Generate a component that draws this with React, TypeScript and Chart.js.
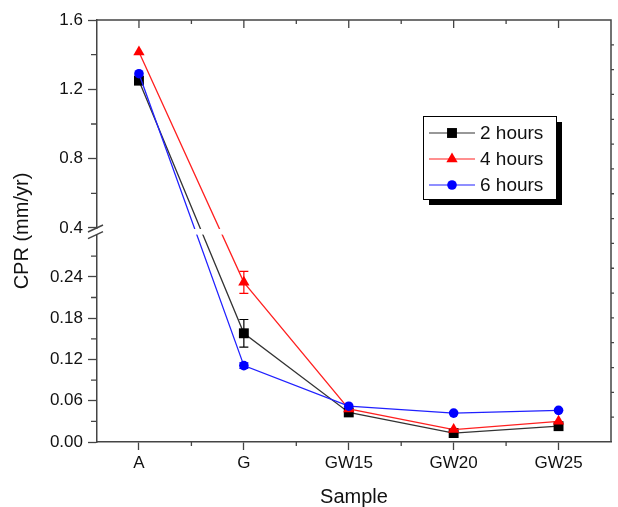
import React, { useEffect, useRef } from 'react';
import { Chart, registerables } from 'chart.js';

Chart.register(...registerables);

// ---- data ----
const categories = ['A', 'G', 'GW15', 'GW20', 'GW25'];
const seriesNames = ['2 hours', '4 hours', '6 hours'];
const hours2 = [1.25, 0.158, 0.043, 0.013, 0.023];
const hours4 = [1.415, 0.232, 0.048, 0.018, 0.030];
const hours6 = [1.29, 0.111, 0.052, 0.042, 0.046];
const err2 = [0, 0.02, 0, 0, 0];
const err4 = [0, 0.016, 0, 0, 0];
const err6 = [0, 0.004, 0, 0, 0];
const yTicksLower = [0, 0.06, 0.12, 0.18, 0.24];
const yTicksUpper = [0.4, 0.8, 1.2, 1.6];
const yMinorLower = [0.03, 0.09, 0.15, 0.21, 0.27];
const yMinorUpper = [0.6, 1.0, 1.4];

// ---- broken axis transform ----
const BREAK_LOW = 0.3;
const BREAK_HIGH = 0.4;
const LOW_K = 688;
const HIGH_K = 173.3;
const GAP = 7.6;
function T(v: number): number {
  return v <= BREAK_LOW ? v * LOW_K : BREAK_LOW * LOW_K + GAP + (v - BREAK_HIGH) * HIGH_K;
}

const FONT = "'Liberation Sans', Arial, Helvetica, sans-serif";
const AXIS_COLOR = '#444';
const colors = ['#000000', '#ff0000', '#0000ff'];
const lineColors = ['#333333', '#ff2020', '#2020ff'];
const styles = ['rect', 'triangle', 'circle'];
const radii = [7, 6.5, 4.8];

const seriesValues = [hours2, hours4, hours6];
const seriesErrors = [err2, err4, err6];

const yTickAll = [...yTicksLower, ...yTicksUpper];
const yTickLabels = [...yTicksLower.map((v) => v.toFixed(2)), ...yTicksUpper.map((v) => v.toFixed(1))];

function drawMarker(ctx: CanvasRenderingContext2D, style: string, x: number, y: number, r: number, color: string) {
  ctx.save();
  ctx.fillStyle = color;
  ctx.beginPath();
  if (style === 'rect') {
    const s = Math.SQRT1_2 * r;
    ctx.rect(x - s, y - s, 2 * s, 2 * s);
  } else if (style === 'triangle') {
    ctx.moveTo(x, y - r);
    ctx.lineTo(x + r * 0.866, y + r / 2);
    ctx.lineTo(x - r * 0.866, y + r / 2);
    ctx.closePath();
  } else {
    ctx.arc(x, y, r, 0, Math.PI * 2);
  }
  ctx.fill();
  ctx.restore();
}

const decorPlugin = {
  id: 'decor',
  beforeDatasetsDraw(chart: any) {
    const ctx = chart.ctx;
    const xs = chart.scales.x;
    const ys = chart.scales.y;
    ctx.save();
    ctx.lineWidth = 1.2;
    seriesValues.forEach((vals, si) => {
      ctx.strokeStyle = colors[si];
      vals.forEach((v, i) => {
        const e = seriesErrors[si][i];
        if (!e) return;
        const x = xs.getPixelForValue(i + 1);
        const y1 = ys.getPixelForValue(T(v + e));
        const y2 = ys.getPixelForValue(T(v - e));
        ctx.beginPath();
        ctx.moveTo(x, y1);
        ctx.lineTo(x, y2);
        ctx.moveTo(x - 4.5, y1);
        ctx.lineTo(x + 4.5, y1);
        ctx.moveTo(x - 4.5, y2);
        ctx.lineTo(x + 4.5, y2);
        ctx.stroke();
      });
    });
    ctx.restore();
  },
  afterDatasetsDraw(chart: any) {
    const ctx = chart.ctx;
    const xs = chart.scales.x;
    const ys = chart.scales.y;
    const { left, right, top, bottom } = chart.chartArea;
    ctx.save();
    // break band
    const yHi = ys.getPixelForValue(T(BREAK_HIGH));
    const yLo = ys.getPixelForValue(T(BREAK_LOW));
    ctx.fillStyle = '#ffffff';
    ctx.fillRect(left - 3, yHi + 1, right - left + 1, yLo - yHi - 2);
    ctx.strokeStyle = AXIS_COLOR;
    ctx.lineWidth = 1.5;
    ctx.beginPath();
    ctx.moveTo(left - 9, yHi + 4);
    ctx.lineTo(left + 6, yHi - 3);
    ctx.moveTo(left - 9, yLo + 3);
    ctx.lineTo(left + 6, yLo - 4);
    ctx.stroke();
    // frame top / right
    ctx.beginPath();
    ctx.moveTo(left, top);
    ctx.lineTo(right, top);
    ctx.lineTo(right, bottom);
    ctx.stroke();
    // minor ticks left
    ctx.lineWidth = 1.3;
    ctx.beginPath();
    [...yMinorLower, ...yMinorUpper].forEach((v) => {
      const y = ys.getPixelForValue(T(v));
      ctx.moveTo(left - 6, y);
      ctx.lineTo(left, y);
    });
    // bottom minor + top ticks
    categories.forEach((_, i) => {
      const xm = xs.getPixelForValue(i + 1);
      ctx.moveTo(xm, top);
      ctx.lineTo(xm, top + 8);
      if (i < categories.length - 1) {
        const xn = xs.getPixelForValue(i + 1.5);
        ctx.moveTo(xn, bottom);
        ctx.lineTo(xn, bottom + 4);
        ctx.moveTo(xn, top);
        ctx.lineTo(xn, top + 4);
      }
    });
    // right axis ticks
    const n = 17;
    for (let i = 1; i < n; i++) {
      const y = bottom - ((bottom - top) * i) / n;
      ctx.moveTo(right, y);
      ctx.lineTo(right + 3, y);
    }
    ctx.stroke();
    ctx.restore();
  },
  afterDraw(chart: any) {
    const ctx = chart.ctx;
    const { right, top } = chart.chartArea;
    const bx = right - 188;
    const by = top + 96;
    const bw = 133;
    const bh = 83;
    ctx.save();
    ctx.fillStyle = '#000';
    ctx.fillRect(bx + 6, by + 6, bw, bh);
    ctx.fillStyle = '#fff';
    ctx.fillRect(bx, by, bw, bh);
    ctx.strokeStyle = '#000';
    ctx.lineWidth = 1;
    ctx.strokeRect(bx + 0.5, by + 0.5, bw, bh);
    const rows = [17, 43, 69];
    seriesNames.forEach((name, si) => {
      const y = by + rows[si];
      ctx.strokeStyle = lineColors[si];
      ctx.lineWidth = 1.2;
      ctx.beginPath();
      ctx.moveTo(bx + 6, y);
      ctx.lineTo(bx + 52, y);
      ctx.stroke();
      drawMarker(ctx, styles[si], bx + 29, y, radii[si], colors[si]);
      ctx.fillStyle = '#111';
      ctx.font = `19px ${FONT}`;
      ctx.textBaseline = 'middle';
      ctx.textAlign = 'left';
      ctx.fillText(name, bx + 57, y + 1);
    });
    ctx.restore();
  },
};

export default function App() {
  const ref = useRef<HTMLCanvasElement | null>(null);
  useEffect(() => {
    document.body.style.margin = '0';
    if (!ref.current) return;
    const datasets = seriesValues.map((vals, si) => ({
      label: seriesNames[si],
      data: vals.map((v, i) => ({ x: i + 1, y: T(v) })),
      borderColor: lineColors[si],
      backgroundColor: colors[si],
      pointBackgroundColor: colors[si],
      pointBorderColor: colors[si],
      pointBorderWidth: 0,
      pointStyle: styles[si],
      pointRadius: radii[si],
      borderWidth: 1.3,
      tension: 0,
      order: 2 - si,
    }));
    const chart = new Chart(ref.current, {
      type: 'line',
      data: { datasets },
      plugins: [decorPlugin],
      options: {
        animation: false,
        responsive: true,
        maintainAspectRatio: false,
        layout: { padding: { top: 20, right: 3, left: 0, bottom: 0 } },
        plugins: { legend: { display: false }, tooltip: { enabled: false } },
        scales: {
          x: {
            type: 'linear',
            min: 0.6,
            max: 5.5,
            afterBuildTicks: (scale: any) => {
              scale.ticks = categories.map((_, i) => ({ value: i + 1 }));
            },
            afterFit: (scale: any) => {
              scale.height = 65;
            },
            ticks: {
              callback: (v: any) => categories[Math.round(Number(v)) - 1] ?? '',
              font: { family: FONT, size: 17 },
              color: '#111',
              padding: 3,
              maxRotation: 0,
              autoSkip: false,
            },
            grid: { drawOnChartArea: false, drawTicks: true, tickLength: 8, tickWidth: 1.3, tickColor: AXIS_COLOR },
            border: { display: true, color: AXIS_COLOR, width: 1.5 },
            title: {
              display: true,
              text: 'Sample',
              font: { family: FONT, size: 20, lineHeight: 1 },
              color: '#111',
              padding: { top: 0, bottom: 0 },
            },
          },
          y: {
            type: 'linear',
            min: 0,
            max: T(1.6),
            afterBuildTicks: (scale: any) => {
              scale.ticks = yTickAll.map((v) => ({ value: T(v) }));
            },
            afterFit: (scale: any) => {
              scale.width = 97;
            },
            ticks: {
              callback: (_v: any, i: number) => yTickLabels[i],
              font: { family: FONT, size: 17 },
              color: '#111',
              padding: 5,
              autoSkip: false,
            },
            grid: { drawOnChartArea: false, drawTicks: true, tickLength: 9, tickWidth: 1.3, tickColor: AXIS_COLOR },
            border: { display: true, color: AXIS_COLOR, width: 1.5 },
            title: {
              display: true,
              text: 'CPR (mm/yr)',
              font: { family: FONT, size: 20, lineHeight: 1.2 },
              color: '#111',
              padding: { top: 10, bottom: 0 },
            },
          },
        },
      },
    } as any);
    return () => chart.destroy();
  }, []);
  return (
    <div style={{ position: 'absolute', left: 0, top: 0, width: 618, height: 507 }}>
      <canvas ref={ref} />
    </div>
  );
}
